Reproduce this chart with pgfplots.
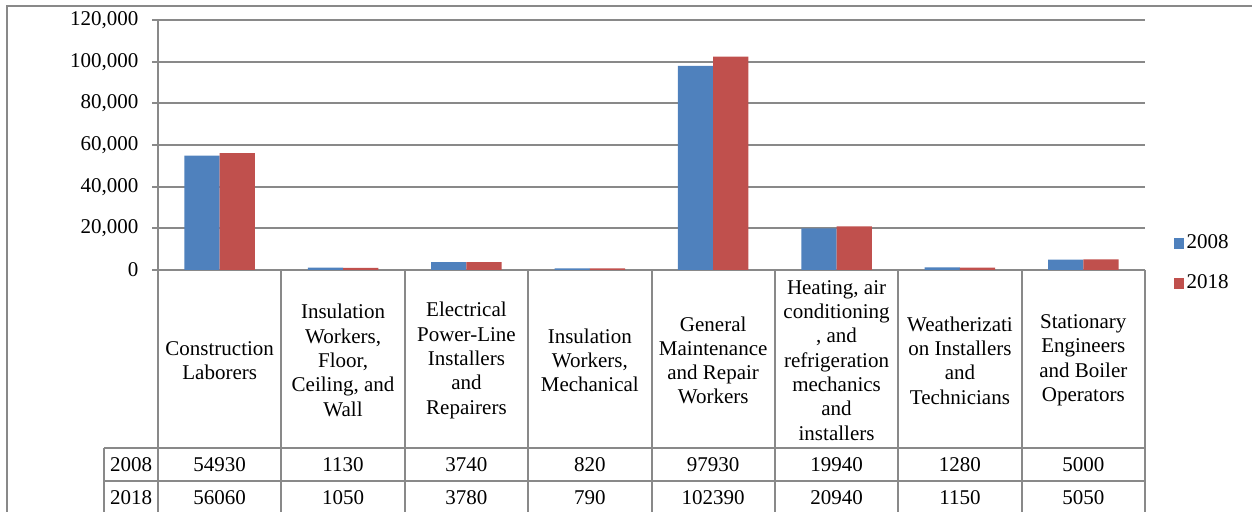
\documentclass[border=0pt]{standalone}
\usepackage{fontspec}
\setmainfont{Liberation Serif}
\usepackage{pgfplots}
\usepackage{pgfplotstable}
\pgfplotsset{compat=1.18}
\definecolor{c08}{HTML}{4F81BD}
\definecolor{c18}{HTML}{C0504D}
\definecolor{cGrid}{HTML}{898989}
\newcommand{\lblfont}{\fontsize{10.5}{12.15}\selectfont}

% employment by occupation, 2008 and 2018
\pgfplotstableread{
x a b
0 54930 56060
1 1130 1050
2 3740 3780
3 820 790
4 97930 102390
5 19940 20940
6 1280 1150
7 5000 5050
}\jobs

\begin{document}
\begin{tikzpicture}
\begin{scope}[x=0.5pt,y=0.5pt]
\useasboundingbox (0,0) rectangle (1252,512);
\clip (0,0) rectangle (1252,512);
% outer chart frame
\draw[cGrid, line width=1pt] (7,-10) -- (7,506) -- (1262,506);
% data table grid
\foreach \k in {0,...,8}
  \draw[cGrid, line width=1pt] ({158+123.375*\k},242) -- ({158+123.375*\k},-10);
\draw[cGrid, line width=1pt] (104,64) -- (1145,64);
\draw[cGrid, line width=1pt] (104,30.5) -- (1145,30.5);
\draw[cGrid, line width=1pt] (104,64) -- (104,-10);
\node[font=\lblfont] at (131,47.25) {2008};
\node[font=\lblfont] at (131,14) {2018};
\end{scope}

\begin{axis}[
    at={(79pt,121pt)}, anchor=south west,
    scale only axis,
    width=493.5pt, height=125pt,
    xmin=-0.5, xmax=7.5,
    ymin=0, ymax=120000,
    clip=false,
    axis lines*=left,
    axis line style={cGrid, line width=1pt},
    ymajorgrids,
    grid style={cGrid, line width=1pt},
    ytick={0,20000,40000,60000,80000,100000,120000},
    scaled y ticks=false,
    yticklabel style={font=\lblfont, /pgf/number format/fixed,
        /pgf/number format/1000 sep={,}, /pgf/number format/assume math mode=true,
        xshift=-3.3pt},
    ytick style={cGrid, line width=1pt},
    tick align=outside,
    major tick length=3pt,
    xtick={0,...,7},
    xtick style={draw=none},
    xticklabels={
      {Construction\\Laborers},
      {Insulation\\Workers,\\Floor,\\Ceiling, and\\Wall},
      {Electrical\\Power-Line\\Installers\\and\\Repairers},
      {Insulation\\Workers,\\Mechanical},
      {General\\Maintenance\\and Repair\\Workers},
      {Heating, air\\conditioning\\, and\\refrigeration\\mechanics\\and\\installers},
      {Weatherizati\\on Installers\\and\\Technicians},
      {Stationary\\Engineers\\and Boiler\\Operators}},
    xticklabel style={font=\lblfont, align=center, anchor=center, yshift=-42.2pt},
    legend style={at={(1.023,0.026)}, anchor=west, draw=none, fill=none,
        font=\lblfont, row sep=9.5pt, nodes={inner sep=1pt}},
    legend cell align=left,
    legend image code/.code={\fill (-1.6pt,-2.6pt) rectangle (3.6pt,2.6pt);},
]
\addplot[ybar, bar width=17.65pt, bar shift=-8.82pt, fill=c08, draw=none]
  table[x=x, y=a] {\jobs};
\addplot[ybar, bar width=17.65pt, bar shift=8.82pt, fill=c18, draw=none]
  table[x=x, y=b] {\jobs};
\legend{2008, 2018}
% table rows under the chart
\addplot[forget plot, draw=none, mark=none, nodes near coords={\pgfplotspointmeta},
    point meta=explicit symbolic,
    every node near coord/.append style={anchor=center, font=\lblfont}]
  table[x=x, y expr=-93480, meta=a] {\jobs};
\addplot[forget plot, draw=none, mark=none, nodes near coords={\pgfplotspointmeta},
    point meta=explicit symbolic,
    every node near coord/.append style={anchor=center, font=\lblfont}]
  table[x=x, y expr=-109440, meta=b] {\jobs};
\end{axis}
\end{tikzpicture}
\end{document}
